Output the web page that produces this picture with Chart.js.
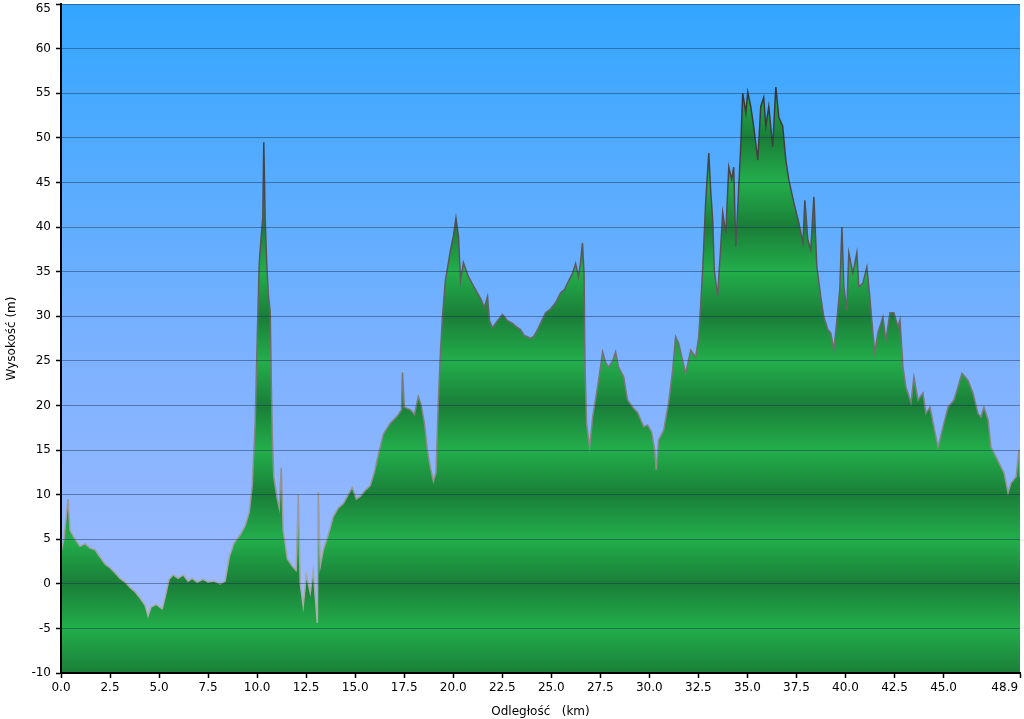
<!DOCTYPE html>
<html>
<head>
<meta charset="utf-8">
<title>Profil wysokości</title>
<script src="https://cdn.jsdelivr.net/npm/chart.js@4/dist/chart.umd.min.js"></script>
<style>
  html, body { margin: 0; padding: 0; background: #fff; }
  canvas { display: block; }
</style>
</head>
<body>
<canvas id="myChart" width="1024" height="719"></canvas>
<script>
// dane profilu (km, m)
const distances = [
  0.00, 0.15, 0.36, 0.46, 0.71, 0.97, 1.23, 1.48, 1.74, 1.99,
  2.25, 2.50, 2.76, 3.01, 3.27, 3.52, 3.78, 4.03, 4.29, 4.44,
  4.59, 4.85, 5.16, 5.31, 5.51, 5.72, 5.97, 6.23, 6.48, 6.69,
  6.94, 7.25, 7.50, 7.81, 8.12, 8.37, 8.58, 8.83, 9.14, 9.39,
  9.60, 9.75, 9.90, 10.01, 10.11, 10.21, 10.29, 10.34, 10.41, 10.49,
  10.57, 10.67, 10.72, 10.77, 10.85, 11.03, 11.13, 11.23, 11.33, 11.54,
  11.79, 11.99, 12.10, 12.20, 12.35, 12.51, 12.71, 12.86, 13.07, 13.12,
  13.22, 13.37, 13.63, 13.88, 14.14, 14.40, 14.65, 14.85, 15.06, 15.26,
  15.52, 15.77, 15.98, 16.13, 16.44, 16.79, 17.15, 17.36, 17.41, 17.51,
  17.82, 18.02, 18.22, 18.37, 18.53, 18.68, 18.84, 18.99, 19.12, 19.24,
  19.35, 19.45, 19.60, 19.86, 20.01, 20.14, 20.27, 20.37, 20.52, 20.78,
  21.13, 21.39, 21.59, 21.75, 21.85, 22.00, 22.26, 22.51, 22.77, 23.02,
  23.23, 23.43, 23.63, 23.79, 23.94, 24.09, 24.30, 24.45, 24.71, 24.96,
  25.22, 25.47, 25.68, 25.83, 26.08, 26.24, 26.39, 26.49, 26.59, 26.67,
  26.72, 26.80, 26.95, 27.11, 27.36, 27.51, 27.62, 27.77, 27.92, 28.13,
  28.28, 28.43, 28.69, 28.89, 29.15, 29.40, 29.71, 29.91, 30.12, 30.27,
  30.35, 30.47, 30.73, 30.98, 31.19, 31.34, 31.49, 31.70, 31.85, 32.11,
  32.36, 32.52, 32.72, 32.87, 33.03, 33.13, 33.23, 33.31, 33.48, 33.64,
  33.74, 33.90, 34.05, 34.20, 34.30, 34.41, 34.56, 34.66, 34.76, 34.92,
  35.02, 35.17, 35.32, 35.53, 35.68, 35.83, 35.94, 36.09, 36.29, 36.45,
  36.60, 36.80, 36.96, 37.11, 37.37, 37.62, 37.83, 37.93, 38.08, 38.23,
  38.39, 38.54, 38.74, 38.90, 39.10, 39.25, 39.41, 39.61, 39.71, 39.82,
  39.92, 40.07, 40.17, 40.38, 40.58, 40.68, 40.89, 41.09, 41.24, 41.40,
  41.50, 41.65, 41.91, 42.06, 42.27, 42.47, 42.68, 42.78, 42.93, 43.08,
  43.34, 43.49, 43.70, 43.95, 44.10, 44.31, 44.51, 44.72, 44.97, 45.23,
  45.53, 45.74, 45.94, 46.25, 46.50, 46.76, 46.91, 47.06, 47.27, 47.42,
  47.68, 47.93, 48.09, 48.29, 48.44, 48.70, 48.85, 48.90
];

const elevations = [
  3.5, 5.0, 9.5, 6.0, 5.0, 4.2, 4.5, 4.0, 3.8, 3.0,
  2.2, 1.8, 1.2, 0.6, 0.2, -0.4, -0.9, -1.6, -2.4, -3.6,
  -2.6, -2.3, -2.8, -1.5, 0.5, 1.0, 0.6, 1.0, 0.3, 0.6,
  0.2, 0.5, 0.2, 0.3, 0.0, 0.3, 3.0, 4.6, 5.5, 6.5,
  8.0, 11.0, 18.0, 28.0, 36.0, 39.0, 41.0, 49.5, 41.0, 36.0,
  32.5, 30.5, 23.0, 17.0, 12.0, 9.5, 8.5, 13.0, 6.0, 2.8,
  2.0, 1.5, 10.0, 0.0, -2.5, 1.0, -1.0, 1.5, -4.4, 10.3,
  2.0, 3.8, 5.5, 7.5, 8.5, 9.0, 10.0, 10.8, 9.5, 9.8,
  10.5, 11.0, 12.5, 14.0, 16.8, 18.0, 18.8, 19.5, 23.7, 19.8,
  19.5, 19.0, 21.0, 20.0, 18.0, 15.0, 13.0, 11.5, 12.5, 20.5,
  26.0, 30.0, 34.0, 37.4, 39.0, 41.0, 38.9, 34.0, 36.0, 34.4,
  33.0, 32.0, 31.0, 32.2, 29.5, 28.7, 29.5, 30.2, 29.5, 29.2,
  28.8, 28.5, 27.8, 27.7, 27.5, 27.7, 28.5, 29.2, 30.4, 30.8,
  31.5, 32.6, 33.0, 33.7, 34.8, 35.9, 34.4, 36.0, 38.2, 34.8,
  24.3, 18.0, 15.3, 18.7, 22.1, 24.3, 26.0, 24.8, 24.3, 25.0,
  26.0, 24.3, 23.2, 20.6, 19.8, 19.2, 17.6, 17.8, 17.0, 15.0,
  12.8, 16.1, 17.2, 20.3, 24.0, 27.7, 27.0, 25.0, 23.6, 26.2,
  25.4, 27.7, 35.2, 42.7, 48.3, 44.0, 40.8, 35.2, 32.2, 37.8,
  41.6, 39.3, 46.7, 45.3, 46.7, 37.8, 44.5, 49.0, 55.0, 52.8,
  55.1, 53.5, 51.3, 47.5, 53.5, 54.5, 51.3, 53.5, 49.0, 55.7,
  52.3, 51.3, 47.5, 45.3, 42.7, 40.5, 38.2, 43.0, 38.6, 37.4,
  43.4, 35.6, 32.2, 29.9, 28.5, 28.1, 26.2, 30.7, 33.0, 40.0,
  33.3, 30.7, 37.1, 34.8, 37.1, 33.3, 33.7, 35.5, 32.2, 28.1,
  25.9, 28.1, 29.9, 27.3, 30.4, 30.4, 28.8, 29.6, 24.3, 22.1,
  20.3, 23.2, 20.6, 21.4, 19.1, 19.8, 17.6, 15.3, 17.6, 19.8,
  20.6, 22.1, 23.6, 22.8, 21.4, 19.1, 18.7, 19.8, 18.4, 15.3,
  14.2, 13.1, 12.4, 10.2, 11.3, 12.0, 15.0, 12.0
];

// etykiety osi X
const xTickValues = [0, 2.5, 5, 7.5, 10, 12.5, 15, 17.5, 20, 22.5, 25, 27.5, 30, 32.5, 35, 37.5, 40, 42.5, 45, 48.9];

const FONT = 'DejaVu Sans, Verdana, sans-serif';

// tło obszaru wykresu (niebieski gradient)
const skyPlugin = {
    id: 'sky',
    beforeDraw(chart) {
        const { ctx, chartArea } = chart;
        if (!chartArea) return;
        const g = ctx.createLinearGradient(0, chartArea.top, 0, chartArea.bottom);
        g.addColorStop(0, '#33a6ff');
        g.addColorStop(0.55, '#7fb2ff');
        g.addColorStop(1, '#a8bdff');
        ctx.save();
        ctx.fillStyle = g;
        ctx.fillRect(chartArea.left, chartArea.top, chartArea.right - chartArea.left, chartArea.bottom - chartArea.top);
        ctx.restore();
    }
};

// zielone wypełnienie w pasach co 10 m
function greenFill(context) {
    const chart = context.chart;
    const { ctx, chartArea, scales } = chart;
    if (!chartArea) return '#22a84a';
    const y = scales.y;
    const top = chartArea.top, bottom = chartArea.bottom;
    const g = ctx.createLinearGradient(0, top, 0, bottom);
    for (let v = 65; v >= -10; v -= 5) {
        const p = (y.getPixelForValue(v) - top) / (bottom - top);
        const dark = (Math.abs(v) % 10) === 0;
        g.addColorStop(Math.min(1, Math.max(0, p)), dark ? '#1a7e38' : '#23ae4b');
    }
    return g;
}

// kolor linii - ciemniejszy u góry
function outline(context) {
    const { ctx, chartArea } = context.chart;
    if (!chartArea) return '#666';
    const g = ctx.createLinearGradient(0, chartArea.top, 0, chartArea.bottom);
    g.addColorStop(0, '#222222');
    g.addColorStop(0.4, '#5a5a5a');
    g.addColorStop(0.75, '#9a9a9a');
    g.addColorStop(1, '#b8b8b8');
    return g;
}

const points = distances.map((d, i) => ({ x: d, y: elevations[i] }));

const ctx = document.getElementById('myChart').getContext('2d');
const chart = new Chart(ctx, {
    type: 'line',
    data: {
        datasets: [{
            label: 'Wysokość',
            data: points,
            borderColor: outline,
            borderWidth: 1.5,
            backgroundColor: greenFill,
            fill: 'start',
            pointRadius: 0,
            tension: 0
        }]
    },
    plugins: [skyPlugin],
    options: {
        responsive: false,
        animation: false,
        layout: { padding: { top: 4, right: 4, left: 0, bottom: 0 } },
        plugins: {
            legend: { display: false },
            tooltip: { enabled: false }
        },
        scales: {
            x: {
                type: 'linear',
                min: 0,
                max: 48.9,
                afterBuildTicks: (scale) => {
                    scale.ticks = xTickValues.map(v => ({ value: v }));
                },
                afterFit: (scale) => {
                    scale.height = 46;
                    scale.paddingLeft = 0;
                    scale.paddingRight = 0;
                },
                grid: {
                    drawOnChartArea: false,
                    tickLength: 5,
                    tickColor: '#000',
                    tickWidth: 1.5
                },
                border: { color: '#000', width: 2, z: 2 },
                ticks: {
                    autoSkip: false,
                    maxRotation: 0,
                    padding: 3,
                    color: '#000',
                    font: { family: FONT, size: 12 },
                    callback: (v) => v === 48.9 ? '48.9\u2007\u2007\u2007\u2007' : v.toFixed(1)
                },
                title: {
                    display: true,
                    text: 'Odległość   (km)',
                    color: '#000',
                    font: { family: FONT, size: 12 },
                    padding: { top: 0, bottom: 0 }
                }
            },
            y: {
                min: -10,
                max: 65,
                afterFit: (scale) => {
                    scale.width = 61;
                    scale.paddingTop = 0;
                    scale.paddingBottom = 0;
                },
                grid: {
                    color: 'rgba(20, 45, 80, 0.45)',
                    lineWidth: 1,
                    tickLength: 5,
                    tickColor: '#000',
                    tickWidth: 1.5,
                    z: 1
                },
                border: { color: '#000', width: 2, z: 2 },
                ticks: {
                    stepSize: 5,
                    padding: 5,
                    color: '#000',
                    // najwyższa etykieta przesunięta w dół, żeby się zmieściła
                    font: (c) => ({ family: FONT, size: 12, lineHeight: (c.tick && c.tick.value === 65) ? 0.8 : 1.2 }),
                    callback: (v) => v === 65 ? ['', '65'] : v
                },
                title: {
                    display: true,
                    text: 'Wysokość (m)',
                    color: '#000',
                    font: { family: FONT, size: 12 },
                    padding: { top: 5, bottom: 0 }
                }
            }
        }
    }
});
</script>
</body>
</html>
